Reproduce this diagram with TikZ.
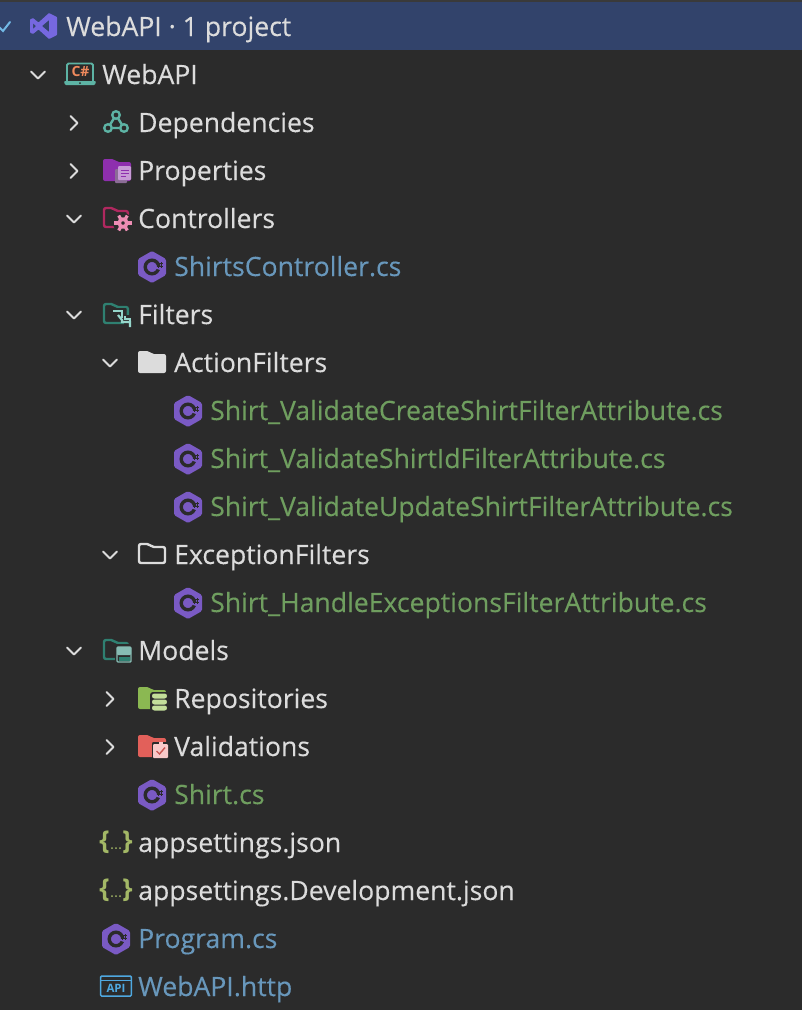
\documentclass[tikz,border=0pt]{standalone}
\usepackage{fontspec}
\setmainfont{Open Sans}[UprightFeatures={FakeBold=0.25}]
\usetikzlibrary{calc}
\definecolor{panelbg}{HTML}{2B2B2B}
\definecolor{headbg}{HTML}{32436B}
\definecolor{topline}{HTML}{3A3A3A}
\definecolor{plain}{HTML}{DCDCDC}
\definecolor{bluefile}{HTML}{6897BB}
\definecolor{greenfile}{HTML}{6F9E5F}
\definecolor{cspurple}{HTML}{7A5AC4}
\definecolor{vspurple}{HTML}{7668E0}
\definecolor{tealicon}{HTML}{5DB3A4}
\definecolor{teallight}{HTML}{96D6CB}
\definecolor{tealdark}{HTML}{2F8071}
\definecolor{propfolder}{HTML}{8E2FAE}
\definecolor{proppage}{HTML}{C79AD6}
\definecolor{maroon}{HTML}{B0285F}
\definecolor{pinkgear}{HTML}{EE8DB4}
\definecolor{greenfolder}{HTML}{8BB852}
\definecolor{greenlight}{HTML}{C3DE9A}
\definecolor{redfolder}{HTML}{E2605A}
\definecolor{redlight}{HTML}{F9C9C9}
\definecolor{olive}{HTML}{A3B866}
\definecolor{apiblue}{HTML}{4FA8E0}
\definecolor{orangecs}{HTML}{F08A5D}
\tikzset{
	filetext/.style={anchor=base west, inner sep=0pt, font=\fontsize{26.6}{30}\selectfont},
	plaintext/.style={filetext, text=plain},
	bluetext/.style={filetext, text=bluefile},
	greentext/.style={filetext, text=greenfile},
	chevron/.style={draw=plain, line width=1.9pt, line cap=round, line join=round},
	pics/foldershape/.style={code={
		\path[pic actions, rounded corners=2] (0,-12) -- (11,-12) -- (14,-9) -- (28,-9) -- (28,10) -- (0,10) -- cycle;
	}},
	pics/folderline/.style={code={
		\path[pic actions, rounded corners=2] (0,-11) -- (10,-11) -- (13,-8) -- (26,-8) -- (26,8) -- (0,8) -- cycle;
	}},
	pics/cshex/.style={code={
		\fill[cspurple, rounded corners=1.5] (0,-16) -- (14,-8) -- (14,8) -- (0,16) -- (-14,8) -- (-14,-8) -- cycle;
		\draw[panelbg, line width=3.4pt] (0,0) circle (6.8);
		\fill[cspurple] (0,0) -- (12,-1) -- (12,4.5) -- cycle;
		\fill[cspurple] (0,0) circle (3.4);
		\draw[panelbg, line width=0.9pt] (6.6,-5) -- (6.6,1) (9,-5) -- (9,1) (4.8,-3.2) -- (10.6,-3.2) (4.8,-0.8) -- (10.6,-0.8);
	}},
	pics/jsonicon/.style={code={
		\node[inner sep=0pt, text=olive, font=\bfseries\fontsize{26}{28}\selectfont] at (-11.5,-1) {\{};
		\node[inner sep=0pt, text=olive, font=\bfseries\fontsize{26}{28}\selectfont] at (11.5,-1) {\}};
		\foreach \dotx in {-4,0,4} \fill[olive] (\dotx,5) circle (1);
	}}
}
\begin{document}
\begin{tikzpicture}[x=1pt, y=-1pt]
	\useasboundingbox (0,0) rectangle (802,1010);
	%%%%% background %%%%%
	\fill[panelbg] (0,0) rectangle (802,1010);
	\fill[topline] (0,0) rectangle (802,2);
	\fill[headbg] (0,2) rectangle (802,50);

	%%%%% labels %%%%%
	\node[plaintext] (head) at (66,36) {WebAPI · 1 project};
	\node[plaintext] (webapi) at (102,84) {WebAPI};
	\node[plaintext] (deps) at (138,132) {Dependencies};
	\node[plaintext] (props) at (138,180) {Properties};
	\node[plaintext] (ctrls) at (138,228) {Controllers};
	\node[bluetext] (shirtsctrl) at (174,276) {ShirtsController.cs};
	\node[plaintext] (filters) at (138,324) {Filters};
	\node[plaintext] (actionf) at (174,372) {ActionFilters};
	\node[greentext] (vcreate) at (210,420) {Shirt\_ValidateCreateShirtFilterAttribute.cs};
	\node[greentext] (vid) at (210,468) {Shirt\_ValidateShirtIdFilterAttribute.cs};
	\node[greentext] (vupdate) at (210,516) {Shirt\_ValidateUpdateShirtFilterAttribute.cs};
	\node[plaintext] (exceptf) at (174,564) {ExceptionFilters};
	\node[greentext] (vhandle) at (210,612) {Shirt\_HandleExceptionsFilterAttribute.cs};
	\node[plaintext] (models) at (138,660) {Models};
	\node[plaintext] (repos) at (174,708) {Repositories};
	\node[plaintext] (valids) at (174,756) {Validations};
	\node[greentext] (shirtcs) at (174,804) {Shirt.cs};
	\node[plaintext] (appjson) at (138,852) {appsettings.json};
	\node[plaintext] (appdev) at (138,900) {appsettings.Development.json};
	\node[bluetext] (program) at (138,948) {Program.cs};
	\node[bluetext] (http) at (138,996) {WebAPI.http};

	%%%%% chevrons %%%%%
	\foreach \chx/\chy in {38/75, 74/219, 74/315, 110/363, 110/555, 74/651}
		\draw[chevron] (\chx-7,\chy-3.5) -- (\chx,\chy+3.5) -- (\chx+7,\chy-3.5);
	\foreach \chx/\chy in {74/123, 74/171, 110/699, 110/747}
		\draw[chevron] (\chx-3.5,\chy-7) -- (\chx+3.5,\chy) -- (\chx-3.5,\chy+7);
	\draw[apiblue!80!white, line width=2pt, line cap=round] (-1,27) -- (3,31) -- (10,22);

	%%%%% c# files %%%%%
	\foreach \csx/\csy in {152/267, 188/411, 188/459, 188/507, 188/603, 152/795, 116/939}
		\pic at (\csx,\csy) {cshex};

	%%%%% solution icon %%%%%
	\fill[vspurple, even odd rule, rounded corners=0.6] (49,13) -- (57,17) -- (57,35) -- (49,39) -- (38.5,29.5) -- (33,34) -- (30,32.5) -- (30,19.5) -- (33,18) -- (38.5,22.5) -- cycle
		(49,20) -- (49,32) -- (42,26) -- cycle (33,23) -- (33,29) -- (36,26) -- cycle;

	%%%%% project icon %%%%%
	\draw[tealicon, line width=1.8pt, rounded corners=1.5] (67,81) -- (67,63.5) -- (93,63.5) -- (93,81);
	\fill[tealicon, rounded corners=1] (64,81) -- (96,81) -- (95,85) -- (65,85) -- cycle;
	\fill[panelbg] (80,83) circle (1);
	\node[inner sep=0pt, text=orangecs, font=\bfseries\fontsize{14}{16}\selectfont] (csharp) at (80.5,71.5) {C\#};

	%%%%% dependencies %%%%%
	\draw[tealicon, line width=2.4pt] (116,115) -- (108,128) -- (124,128) -- cycle;
	\fill[panelbg] (116,115) circle (4.6) (108,128) circle (4.6) (124,128) circle (4.6);
	\draw[tealicon, line width=2.3pt] (116,115) circle (3.8) (108,128) circle (3.8) (124,128) circle (3.8);

	%%%%% properties %%%%%
	\pic[fill=propfolder] at (103,171) {foldershape};
	\fill[proppage!70!black, rounded corners=1] (115,169) rectangle (127,183);
	\fill[proppage, rounded corners=1] (118,166) rectangle (131,180);
	\draw[propfolder, line width=1pt] (120.5,170) -- (128.5,170) (120.5,173) -- (128.5,173) (120.5,176) -- (126,176);

	%%%%% controllers %%%%%
	\pic[draw=maroon, line width=2.4pt, xscale=0.92] at (104,219) {folderline};
	\fill[panelbg] (123,223) circle (10);
	\draw[pinkgear, line width=3.6pt] (123,223) circle (3.8);
	\foreach \gearang in {0,60,...,300}
		\draw[pinkgear, line width=3.2pt] ($(123,223)+(\gearang:5)$) -- ($(123,223)+(\gearang:8.6)$);

	%%%%% filters %%%%%
	\pic[draw=tealdark, line width=2.4pt, xscale=0.92] at (104,315) {folderline};
	\fill[panelbg] (112,308) -- (126,308) -- (126,315) -- (133,315) -- (133,329) -- (124,329) -- (124,323) -- (112,316) -- cycle;
	\draw[teallight, line width=2.2pt] (113,311) -- (122,311) -- (122,318);
	\draw[teallight, line width=2.2pt] (118,315) -- (122,320) -- (122,322) -- (130,322) -- (130,327);
	\draw[teallight, line width=2.2pt] (125,316) -- (125,319) -- (130,319) -- (130,324);

	%%%%% plain folders %%%%%
	\pic[fill=plain] at (138,363) {foldershape};
	\pic[draw=plain, line width=2.4pt] at (139,555) {folderline};

	%%%%% models %%%%%
	\pic[draw=tealdark, line width=2.4pt, xscale=0.92] at (104,651) {folderline};
	\fill[panelbg] (115,644) rectangle (133,665);
	\fill[teallight!85!panelbg, rounded corners=1] (117,647) rectangle (131,655);
	\draw[teallight!85!panelbg, line width=1.4pt, rounded corners=1] (117,647) rectangle (131,662);
	\fill[tealdark] (118.5,657) rectangle (129.5,660.5);

	%%%%% repositories %%%%%
	\pic[fill=greenfolder] at (138,699) {foldershape};
	\fill[panelbg, rounded corners=3] (150,692) rectangle (169,713);
	\foreach \dby in {693.5,699.5,705.5}
		\fill[greenlight, rounded corners=2.4] (152,\dby) rectangle (167,\dby+5);

	%%%%% validations %%%%%
	\pic[fill=redfolder] at (138,747) {foldershape};
	\fill[panelbg, rounded corners=1] (152,742) rectangle (169,759);
	\fill[redlight, rounded corners=1] (153,744) rectangle (168,758);
	\fill[redlight] (158.5,741.5) rectangle (162.5,745);
	\draw[redfolder!90!black, line width=1.4pt] (156.5,751) -- (159.5,754) -- (165,747.5);

	%%%%% json %%%%%
	\pic at (116,843) {jsonicon};
	\pic at (116,891) {jsonicon};

	%%%%% http %%%%%
	\draw[apiblue, line width=1.5pt, rounded corners=1] (100.7,976) rectangle (131.3,996);
	\draw[apiblue, line width=1.5pt] (100.7,980.5) -- (131.3,980.5);
	\node[inner sep=0pt, text=apiblue, font=\bfseries\fontsize{11.5}{13}\selectfont] (apitag) at (116,988.5) {API};
\end{tikzpicture}
\end{document}
